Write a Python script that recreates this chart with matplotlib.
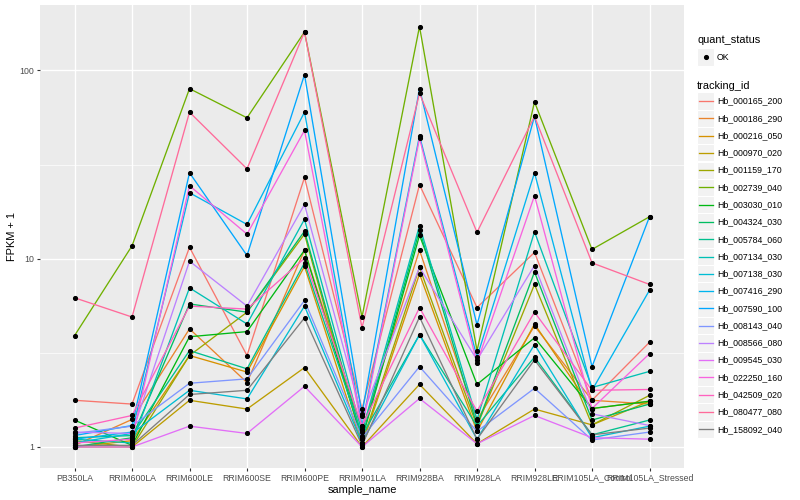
import math
import numpy as np
import matplotlib
matplotlib.use("Agg")
import matplotlib.pyplot as plt
from matplotlib.lines import Line2D
from matplotlib.patches import Rectangle

plt.rcParams['font.family'] = ['Liberation Sans', 'DejaVu Sans']

samples = ['PB350LA', 'RRIM600LA', 'RRIM600LE', 'RRIM600SE', 'RRIM600PE',
           'RRIM901LA', 'RRIM928BA', 'RRIM928LA', 'RRIM928LE',
           'RRIM105LA_Control', 'RRIM105LA_Stressed']

tracking_ids = ['Hb_000165_200', 'Hb_000186_290', 'Hb_000216_050', 'Hb_000970_020',
                'Hb_001159_170', 'Hb_002739_040', 'Hb_003030_010', 'Hb_004324_030',
                'Hb_005784_060', 'Hb_007134_030', 'Hb_007138_030', 'Hb_007416_290',
                'Hb_007590_100', 'Hb_008143_040', 'Hb_008566_080', 'Hb_009545_030',
                'Hb_022250_160', 'Hb_042509_020', 'Hb_080477_080', 'Hb_158092_040']

# FPKM + 1, one list per tracking_id (same order as samples)
fpkm = {
    'Hb_000165_200': [1.77, 1.69, 11.5, 3.06, 27.0, 1.59, 24.7, 5.5, 10.8, 1.77, 3.6],
    'Hb_000186_290': [1.02, 1.40, 4.24, 2.2, 11.1, 1.23, 11.1, 1.39, 4.4, 1.77, 1.69],
    'Hb_000216_050': [1.0, 1.08, 3.06, 2.5, 9.1, 1.02, 8.3, 1.21, 4.5, 1.6, 1.75],
    'Hb_000970_020': [1.0, 1.0, 1.77, 1.59, 2.64, 1.0, 2.15, 1.04, 1.59, 1.31, 1.75],
    'Hb_001159_170': [1.08, 1.0, 3.06, 5.2, 13.5, 1.05, 9.0, 1.29, 7.3, 1.31, 1.88],
    'Hb_002739_040': [3.9, 11.7, 80.0, 56.0, 160.0, 4.9, 171.0, 3.25, 68.0, 11.2, 16.7],
    'Hb_003030_010': [1.39, 1.02, 3.85, 4.1, 11.1, 1.1, 13.3, 2.15, 3.8, 1.6, 1.75],
    'Hb_004324_030': [1.0, 1.12, 5.75, 5.2, 14.0, 1.12, 14.2, 1.3, 8.5, 1.39, 1.69],
    'Hb_005784_060': [1.12, 1.15, 3.25, 2.6, 9.5, 1.15, 3.95, 1.29, 3.0, 1.16, 1.39],
    'Hb_007134_030': [1.1, 1.05, 7.0, 4.5, 16.2, 1.2, 15.0, 1.4, 13.9, 2.07, 2.52],
    'Hb_007138_030': [1.05, 1.18, 2.0, 1.8, 5.6, 1.05, 3.95, 1.1, 3.5, 1.12, 1.29],
    'Hb_007416_290': [1.1, 1.2, 22.4, 15.2, 60.0, 1.3, 45.0, 3.0, 28.6, 2.0, 6.8],
    'Hb_007590_100': [1.15, 1.3, 28.6, 10.4, 95.0, 1.5, 80.0, 4.45, 57.0, 2.67, 16.7],
    'Hb_008143_040': [1.18, 1.29, 2.18, 2.3, 6.0, 1.12, 2.67, 1.21, 2.05, 1.09, 1.2],
    'Hb_008566_080': [1.2, 1.18, 9.7, 5.6, 19.4, 1.46, 9.0, 2.9, 9.2, 1.5, 1.3],
    'Hb_009545_030': [1.0, 1.0, 1.29, 1.18, 2.1, 1.0, 1.81, 1.04, 1.47, 1.12, 1.1],
    'Hb_022250_160': [1.05, 1.1, 24.4, 13.5, 48.0, 1.25, 43.6, 2.8, 21.6, 1.6, 3.13],
    'Hb_042509_020': [1.26, 1.47, 5.6, 5.4, 10.05, 1.29, 5.5, 1.55, 5.2, 2.0, 2.02],
    'Hb_080477_080': [6.2, 4.9, 60.0, 30.0, 160.0, 4.3, 75.5, 13.8, 57.0, 9.5, 7.3],
    'Hb_158092_040': [1.02, 1.02, 1.9, 2.0, 4.85, 1.02, 4.9, 1.1, 2.9, 1.16, 1.26],
}


def hcl_hex(h, c=100.0, l=65.0):
    # polar Luv -> sRGB, like R's hcl()
    hr = math.radians(h)
    u, v = c * math.cos(hr), c * math.sin(hr)
    Xn, Yn, Zn = 0.95047, 1.0, 1.08883
    un = 4 * Xn / (Xn + 15 * Yn + 3 * Zn)
    vn = 9 * Yn / (Xn + 15 * Yn + 3 * Zn)
    Y = Yn * ((l + 16) / 116) ** 3
    up = u / (13 * l) + un
    vp = v / (13 * l) + vn
    X = 9 * Y * up / (4 * vp)
    Z = Y * (12 - 3 * up - 20 * vp) / (4 * vp)
    rgb = [3.2404542 * X - 1.5371385 * Y - 0.4985314 * Z,
           -0.9692660 * X + 1.8760108 * Y + 0.0415560 * Z,
           0.0556434 * X - 0.2040259 * Y + 1.0572252 * Z]
    out = []
    for ch in rgb:
        ch = 12.92 * ch if ch <= 0.0031308 else 1.055 * ch ** (1 / 2.4) - 0.055
        out.append(min(max(ch, 0), 1))
    return tuple(out)


n_hue = 19
hues = np.linspace(15, 375, n_hue + 1)[:-1]
colors = [hcl_hex(h) for h in hues] + ['#7F7F7F']

fig = plt.figure(figsize=(8, 5), dpi=100)
ax = fig.add_axes([40 / 800, 32 / 500, 644 / 800, 462.5 / 500])
ax.set_facecolor('#EBEBEB')

x = np.arange(len(samples))
for tid, col in zip(tracking_ids, colors):
    ax.plot(x, fpkm[tid], color=col, lw=0.95, zorder=3)
for tid in tracking_ids:
    ax.plot(x, fpkm[tid], 'o', color='black', ms=2.7, zorder=4)

ax.set_yscale('log')
ax.set_yticks([1, 10, 100])
ax.set_yticklabels(['1', '10', '100'])
ax.set_yticks([10 ** 0.5, 10 ** 1.5], minor=True)
ax.yaxis.set_minor_formatter(plt.NullFormatter())
ax.set_xticks(x)
ax.set_xticklabels(samples)

# ggplot-like 5% expansion in log space
all_vals = np.concatenate([fpkm[t] for t in tracking_ids])
lo, hi = np.log10(all_vals.min()), np.log10(all_vals.max())
pad = 0.05 * (hi - lo)
ax.set_ylim(10 ** (lo - pad), 10 ** (hi + pad))
ax.set_xlim(-0.6, len(samples) - 0.4)

ax.grid(True, which='major', color='white', lw=1.0)
ax.grid(True, which='minor', axis='y', color='white', lw=0.5)
ax.set_axisbelow(True)
for s in ax.spines.values():
    s.set_visible(False)
ax.tick_params(axis='both', which='major', length=2.5, width=0.8, color='#333333',
               labelsize=6.35, labelcolor='#4D4D4D', pad=1.6)
ax.tick_params(axis='y', which='minor', length=0)
ax.set_xlabel('sample_name', fontsize=7.9, labelpad=2)
ax.set_ylabel('FPKM + 1', fontsize=7.9, labelpad=2)

# legends, drawn like ggplot guides
def fy(py):
    return 1 - py / 500

def fx(px):
    return px / 800

fig.text(fx(697), fy(40), 'quant_status', fontsize=7.9, va='center', ha='left')
fig.add_artist(Rectangle((fx(697), fy(57 + 8.5)), fx(17), 17 / 500, transform=fig.transFigure,
                         facecolor='#F2F2F2', edgecolor='white', lw=0.8))
fig.add_artist(Line2D([fx(705.5)], [fy(57)], marker='o', color='black', ms=2.7,
                      transform=fig.transFigure))
fig.text(fx(717), fy(57), 'OK', fontsize=6.35, va='center', ha='left')

fig.text(fx(697), fy(86), 'tracking_id', fontsize=7.9, va='center', ha='left')
for i, (tid, col) in enumerate(zip(tracking_ids, colors)):
    yc = 101 + i * 17.28
    fig.add_artist(Rectangle((fx(697), fy(yc + 8.6)), fx(17), 17.2 / 500,
                             transform=fig.transFigure, facecolor='#F2F2F2',
                             edgecolor='white', lw=0.8))
    fig.add_artist(Line2D([fx(698.5), fx(712.5)], [fy(yc), fy(yc)], color=col, lw=0.95,
                          transform=fig.transFigure))
    fig.text(fx(717), fy(yc), tid, fontsize=6.35, va='center', ha='left')

fig.savefig('out.png', dpi=100)
